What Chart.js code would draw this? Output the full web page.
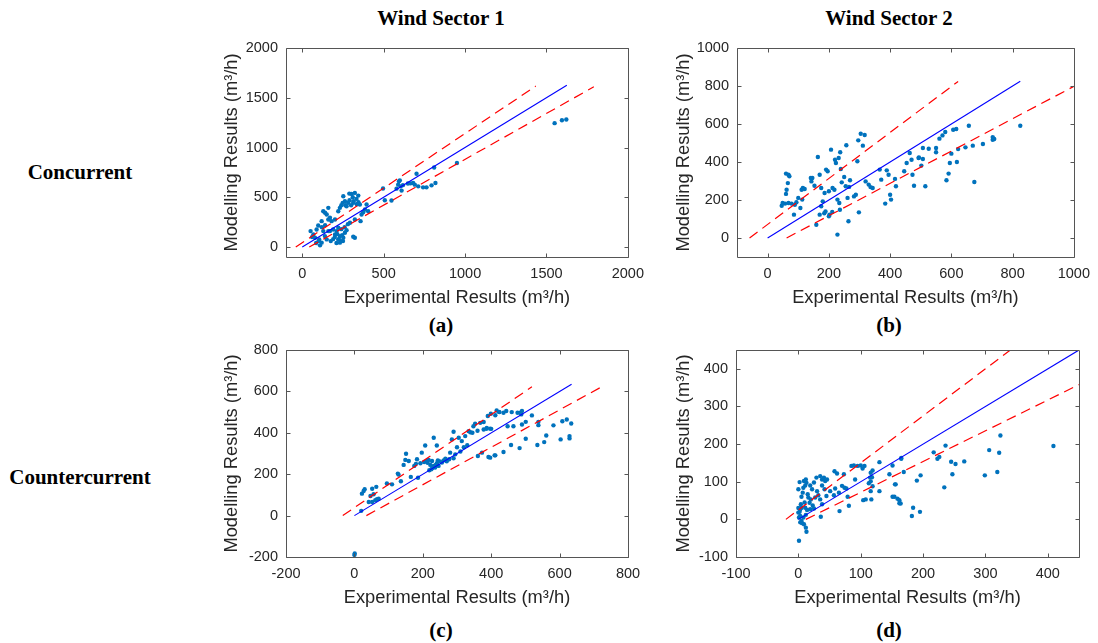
<!DOCTYPE html>
<html>
<head>
<meta charset="utf-8">
<script src="https://cdn.jsdelivr.net/npm/chart.js@4.4.1/dist/chart.umd.min.js"></script>
<style>
  body { margin: 0; background: #fff; width: 1098px; height: 643px; position: relative; overflow: hidden; }
  canvas { position: absolute; }
  .lbl {
    position: absolute;
    font-family: 'Liberation Serif', 'Times New Roman', serif;
    font-weight: bold;
    font-size: 21px;
    color: #000;
    white-space: nowrap;
    transform: translate(-50%, -50%);
  }
</style>
</head>
<body>
<div class="lbl" style="left:441px; top:18px">Wind Sector 1</div>
<div class="lbl" style="left:889px; top:18px">Wind Sector 2</div>
<div class="lbl" style="left:80px; top:172px">Concurrent</div>
<div class="lbl" style="left:80px; top:477px">Countercurrent</div>
<div class="lbl" style="left:441px; top:325px">(a)</div>
<div class="lbl" style="left:889px; top:325px">(b)</div>
<div class="lbl" style="left:441px; top:630px">(c)</div>
<div class="lbl" style="left:889px; top:630px">(d)</div>

<canvas id="chartA" width="440" height="285" style="left:212px; top:30px"></canvas>
<canvas id="chartB" width="434" height="285" style="left:664px; top:30px"></canvas>
<canvas id="chartC" width="440" height="283" style="left:212px; top:332px"></canvas>
<canvas id="chartD" width="434" height="283" style="left:664px; top:332px"></canvas>

<script>
// Experimental vs modelled ventilation rates, [experimental, modelled] in m3/h

// Wind sector 1, concurrent
const concurrent1 = [
  [1550,1245],[1595,1274],[1622,1281],[950,845],[810,800],[702,737],
  [818,644],[794,620],[763,600],[742,600],[712,610],[691,627],[681,644],[665,640],[649,639],
  [599,670],[589,627],[605,610],[579,587],[610,567],[618,622],[594,660],
  [548,467],[507,470],[496,589],
  [395,427],[385,377],[405,360],[374,350],[358,260],[364,327],[323,544],[303,534],[289,537],
  [344,517],[333,484],[313,444],[282,444],[262,460],[248,444],[252,510],[272,410],[231,394],
  [221,360],[323,277],[354,427],[300,420],[290,470],[310,500],[265,420],[240,420],[335,430],
  [345,450],[315,460],
  [129,360],[160,394],[150,327],[140,345],[170,294],[180,260],[160,277],[201,277],[119,260],
  [98,217],[88,177],[51,160],[68,127],[78,94],[104,77],[119,44],[109,17],[190,177],[211,160],
  [221,194],[231,110],[221,77],[241,60],[252,94],[231,44],[262,144],[272,170],[293,244],
  [313,104],[323,94],[139,110],[150,77],[201,127],[170,160],[129,160],[60,100],[85,40],
  [100,60],[200,100],[215,130],[245,120],[260,200],[280,230],[190,80],[175,60],[240,180],
  [120,200],[140,220],[160,160],[210,40],[225,80],[250,60]
];

// Wind sector 2, concurrent
const concurrent2 = [
  [46,170],[49,184],[57,181],[68,184],[78,181],[89,175],[94,188],[60,339],[68,333],[71,325],
  [66,289],[62,254],[60,232],[86,123],[100,211],[107,158],[113,202],[111,254],[121,258],
  [143,298],[146,316],[153,275],[164,426],[170,333],[175,263],[175,167],[180,193],[186,237],
  [191,360],[196,351],[200,246],[207,465],[202,123],[170,123],[159,70],[212,263],[218,254],
  [220,412],[223,395],[232,421],[237,451],[239,363],[242,293],[228,202],[234,184],[236,149],
  [250,321],[255,272],[261,211],[266,269],[269,304],[257,488],[293,404],[296,514],[304,549],
  [317,542],[311,486],[282,219],[288,228],[298,135],[264,88],[228,18],[320,298],[330,281],
  [336,268],[343,263],[366,360],[371,307],[389,356],[395,333],[400,228],[403,202],[384,181],
  [416,311],[419,272],[446,351],[454,395],[464,447],[470,412],[473,333],[478,275],[493,421],
  [507,474],[515,272],[526,470],[550,474],[550,451],[494,424],[507,416],[502,381],[561,523],
  [571,540],[580,558],[606,570],[616,574],[657,591],[622,468],[646,477],[670,486],[703,495],
  [735,531],[740,521],[735,517],[825,591],[600,444],[595,395],[618,400],[591,339],[584,304],
  [675,295],[189,140],[200,114],[211,137],[185,130],[115,263],[141,316]
];

// Wind sector 1, countercurrent
const countercurrent1 = [
  [0,-190],[1,-183],
  [22,106],[27,119],[30,127],[52,130],[64,139],[47,95],[56,103],[61,74],[52,66],[66,79],
  [71,82],[42,66],[20,23],[95,155],[110,151],[127,203],[144,245],[149,269],[151,299],
  [159,264],[165,187],[183,272],[186,183],[197,304],[207,339],[193,253],[204,259],[212,264],
  [217,269],[222,245],[227,264],[232,240],[225,224],[219,219],[236,232],[241,253],[244,267],
  [232,376],[241,339],[256,256],[261,267],[266,275],[277,272],[280,304],[290,277],[295,296],
  [285,368],[290,405],[305,376],[314,360],[324,384],[334,408],[339,403],[348,432],[353,444],
  [368,448],[378,416],[387,424],[390,481],[399,492],[412,485],[416,508],[423,501],[397,420],
  [373,304],[361,288],[392,283],[410,291],
  [424,500],[436,497],[444,505],[460,500],[477,497],[485,497],[490,505],[488,489],[519,484],
  [378,452],[386,419],[400,419],[448,432],[465,432],[490,440],[501,453],[538,453],[538,437],
  [582,436],[608,456],[621,464],[634,445],[501,371],[561,387],[555,355],[535,341],[603,368],
  [629,384],[629,373],[458,341],[483,326],[436,307],[412,291],[397,280],
  [228,230],[238,245],[246,240],[250,262],[214,255],[270,262],[300,330],[310,310],[320,330],
  [330,340],[345,400],[360,410],[180,250],[175,240],[136,166],[129,198]
];

// Wind sector 2, countercurrent
const countercurrent2 = [
  [0,80],[2,99],[9,102],[11,90],[12,106],[13,97],[8,84],[7,71],[5,60],[15,67],[16,58],[18,44],
  [19,27],[11,31],[5,31],[3,27],[0,18],[3,9],[8,5],[5,-4],[9,-13],[12,-22],[13,-33],[1,-57],
  [0,30],[2,20],[1,5],[3,-8],[6,-10],[4,40],[10,45],[14,25],[12,12],
  [19,90],[22,80],[25,98],[29,111],[35,115],[38,106],[41,111],[43,102],[46,106],[38,90],
  [42,80],[30,75],[32,64],[27,58],[35,53],[20,53],[23,37],[25,29],[38,40],[36,7],[45,62],
  [51,75],[57,64],[59,82],[65,71],[66,22],[58,128],[62,122],[73,120],[70,89],[74,84],[77,82],
  [79,60],[81,36],[85,142],[89,143],[95,142],[100,143],[106,142],[103,135],[91,106],[116,124],
  [115,111],[119,130],[116,75],[117,53],[130,152],[108,53],[104,51],[130,75],[146,120],
  [155,93],[151,60],[159,55],[162,43],[165,163],[116,101],[119,88],[113,96],[118,112],
  [324,223],[322,177],[306,184],[319,126],[299,117],[266,154],[252,147],[245,153],[236,196],
  [247,120],[234,85],[226,166],[223,161],[217,178],[196,117],[190,103],[195,20],[184,31],
  [182,9],[169,126],[165,161],[151,143],[156,93],[154,60],[162,51],[164,42],[409,195]
];

// 1:1 line and the upper / lower dashed bounds, as end points
const fitA = [[0,0],[1625,1625]],  upperA = [[-40,0],[1434,1617]], lowerA = [[43,0],[1791,1610]];
const fitB = [[0,0],[825,825]],    upperB = [[-59,0],[622,824]],   lowerB = [[62,0],[1000,798]];
const fitC = [[0,0],[635,635]],    upperC = [[-34,0],[519,622]],   lowerC = [[35,0],[724,623]];
const fitD = [[0,0],[450,450]],    upperD = [[-20,0],[340,450]],   lowerD = [[12,0],[450,358]];

// axis ticks
const ticksA = [0, 500, 1000, 1500, 2000];
const ticksB = [0, 200, 400, 600, 800, 1000];
const ticksC = [-200, 0, 200, 400, 600, 800];
const ticksD = [-100, 0, 100, 200, 300, 400];

Chart.defaults.font.family = "'Liberation Sans', Arial, sans-serif";
Chart.defaults.color = '#262626';

// box around the plot with inward ticks on all four sides
const boxTicks = {
  id: 'boxTicks',
  afterDraw(chart) {
    const { ctx, chartArea: a, scales: { x, y } } = chart;
    const len = 4;
    const l = Math.round(a.left) + 0.5, r = Math.round(a.right) + 0.5;
    const t = Math.round(a.top) + 0.5, b = Math.round(a.bottom) + 0.5;
    ctx.save();
    ctx.strokeStyle = '#555';
    ctx.lineWidth = 1;
    ctx.beginPath();
    x.ticks.forEach(tk => {
      const px = Math.round(x.getPixelForValue(tk.value)) + 0.5;
      ctx.moveTo(px, b); ctx.lineTo(px, b - len);
      ctx.moveTo(px, t); ctx.lineTo(px, t + len);
    });
    y.ticks.forEach(tk => {
      const py = Math.round(y.getPixelForValue(tk.value)) + 0.5;
      ctx.moveTo(l, py); ctx.lineTo(l + len, py);
      ctx.moveTo(r, py); ctx.lineTo(r - len, py);
    });
    ctx.rect(l, t, r - l, b - t);
    ctx.stroke();
    ctx.restore();
  }
};

const toXY = arr => arr.map(p => ({ x: p[0], y: p[1] }));

function axis(min, max, ticks, title, isX, size) {
  return {
    type: 'linear',
    min: min,
    max: max,
    afterBuildTicks: s => { s.ticks = ticks.map(v => ({ value: v })); },
    afterFit: s => { if (isX) s.height = size; else s.width = size; },
    grid: { display: false, drawTicks: false },
    border: { display: false },
    ticks: {
      padding: 8,
      maxRotation: 0,
      autoSkip: false,
      font: { size: 14.5 },
      color: '#262626',
      callback: v => String(v)
    },
    title: {
      display: true,
      text: title,
      font: { size: 18.3 },
      color: '#262626',
      padding: isX ? { top: 0, bottom: 6 } : { top: 9, bottom: 0 }
    }
  };
}

function makeChart(id, points, fit, upper, lower, min, max, ticks, yWidth, rightPad) {
  new Chart(document.getElementById(id), {
    type: 'scatter',
    data: {
      datasets: [
        {
          data: toXY(fit), showLine: true, borderColor: '#0000ff', borderWidth: 1.1,
          pointRadius: 0
        },
        {
          data: toXY(upper), showLine: true, borderColor: '#ff0000', borderWidth: 1.2,
          borderDash: [10, 6], pointRadius: 0
        },
        {
          data: toXY(lower), showLine: true, borderColor: '#ff0000', borderWidth: 1.2,
          borderDash: [10, 6], pointRadius: 0
        },
        {
          data: toXY(points), pointRadius: 2.2, pointBorderWidth: 0,
          pointBackgroundColor: '#0072bd', borderColor: '#0072bd'
        }
      ]
    },
    options: {
      responsive: false,
      animation: false,
      layout: { padding: { top: 18, right: rightPad, left: 0, bottom: 0 } },
      plugins: { legend: { display: false }, tooltip: { enabled: false } },
      scales: {
        x: axis(min, max, ticks, 'Experimental Results (m³/h)', true, 58),
        y: axis(min, max, ticks, 'Modelling Results (m³/h)', false, yWidth)
      }
    },
    plugins: [boxTicks]
  });
}

makeChart('chartA', concurrent1, fitA, upperA, lowerA, -100, 2000, ticksA, 74, 24);
makeChart('chartB', concurrent2, fitB, upperB, lowerB, -100, 1000, ticksB, 73, 20);
makeChart('chartC', countercurrent1, fitC, upperC, lowerC, -200, 800, ticksC, 74, 24);
makeChart('chartD', countercurrent2, fitD, upperD, lowerD, -100, 450, ticksD, 72, 19);
</script>
</body>
</html>
